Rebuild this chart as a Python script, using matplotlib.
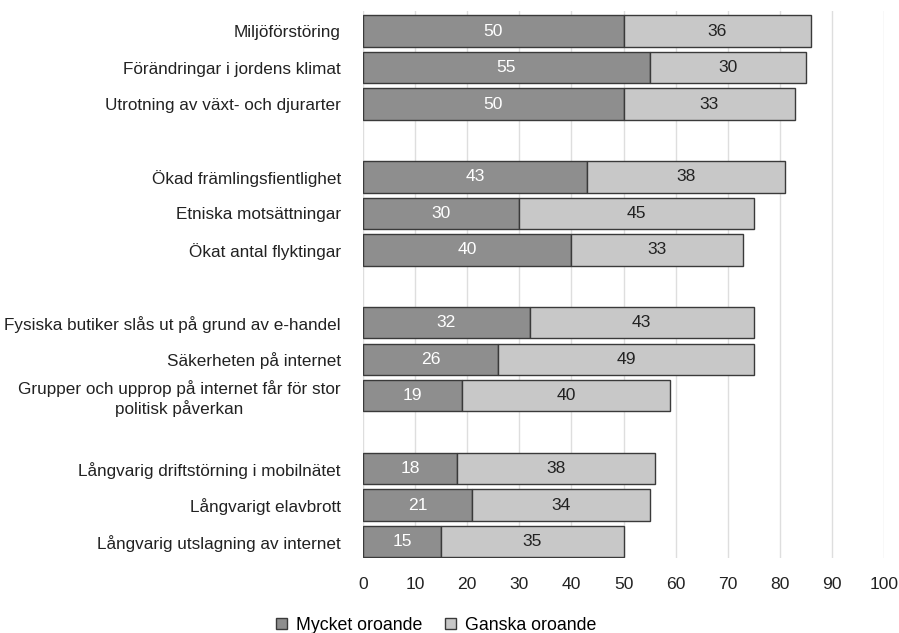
import numpy as np
import matplotlib.pyplot as plt

plt.rcParams['font.family'] = ['Liberation Sans', 'DejaVu Sans']

categories = [
    "Miljöförstöring",
    "Förändringar i jordens klimat",
    "Utrotning av växt- och djurarter",
    "Ökad främlingsfientlighet",
    "Etniska motsättningar",
    "Ökat antal flyktingar",
    "Fysiska butiker slås ut på grund av e-handel",
    "Säkerheten på internet",
    "Grupper och upprop på internet får för stor\npolitisk påverkan",
    "Långvarig driftstörning i mobilnätet",
    "Långvarigt elavbrott",
    "Långvarig utslagning av internet",
]
mycket = [50, 55, 50, 43, 30, 40, 32, 26, 19, 18, 21, 15]
ganska = [36, 30, 33, 38, 45, 33, 43, 49, 40, 38, 34, 35]

# four groups of three, one empty slot between groups
pos = np.array([i + i // 3 for i in range(len(categories))])

fig = plt.figure(figsize=(8.99, 6.33), dpi=100)
ax = fig.add_axes([0.4038, 0.1185, 0.5795, 0.8641])

dark = '#8e8e8e'
light = '#c8c8c8'
edge = '#3a3a3a'
fs = 12.3
h = 0.86
b1 = ax.barh(pos, mycket, height=h, color=dark, edgecolor=edge, linewidth=1.0,
             label='Mycket oroande', zorder=3)
b2 = ax.barh(pos, ganska, left=mycket, height=h, color=light, edgecolor=edge,
             linewidth=1.0, label='Ganska oroande', zorder=3)

for p, m, g in zip(pos, mycket, ganska):
    ax.text(m / 2, p, str(m), ha='center', va='center', color='white', fontsize=12.6, zorder=4)
    ax.text(m + g / 2, p, str(g), ha='center', va='center', color='#222222', fontsize=12.6, zorder=4)

ax.set_yticks(pos)
ax.set_yticklabels(categories, fontsize=fs, color='#222222', ha='right', multialignment='center')
ax.set_xlim(0, 100)
ax.set_ylim(14.45, -0.55)
ax.set_xticks(np.arange(0, 101, 10))
ax.tick_params(axis='both', length=0, labelsize=fs, colors='#222222')
ax.tick_params(axis='x', labelsize=12.6, pad=14)
ax.tick_params(axis='y', pad=16)
ax.grid(axis='x', color='#dedede', linewidth=1.0, zorder=0)
for s in ax.spines.values():
    s.set_visible(False)

fig.legend(handles=[b1, b2], loc='center', bbox_to_anchor=(0.485, 0.012), ncol=2,
           frameon=False, fontsize=12.8, handlelength=0.6, handleheight=0.6,
           handletextpad=0.5, columnspacing=1.3)

fig.savefig('out.png', dpi=100)
